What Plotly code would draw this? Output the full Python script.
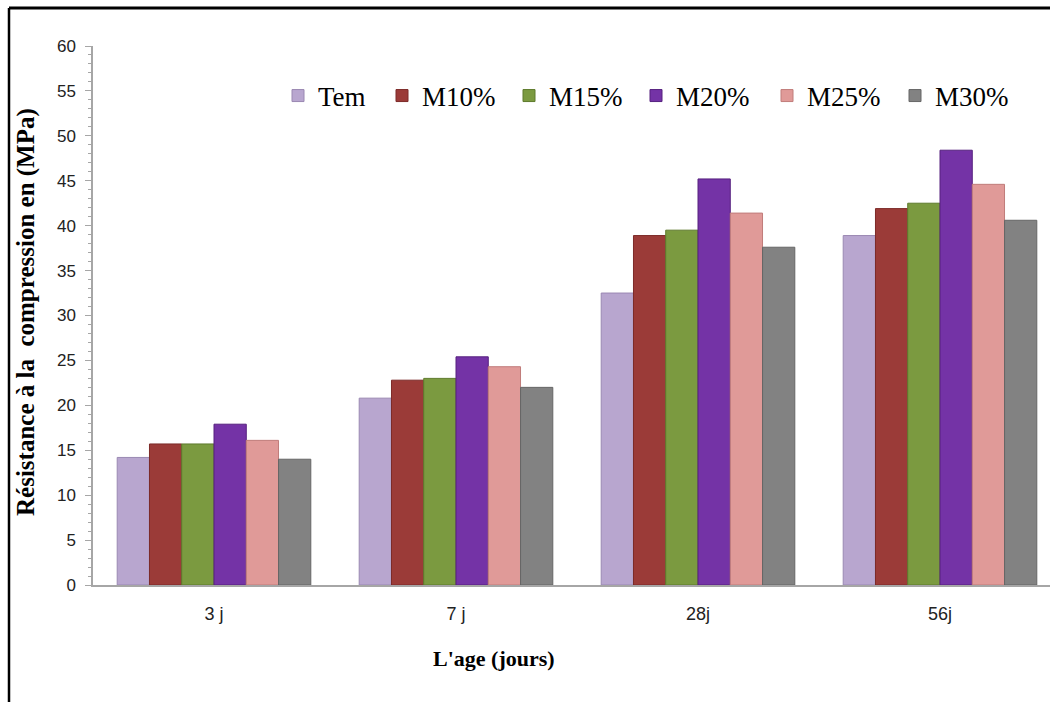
import plotly.graph_objects as go

# Compressive strength (MPa) by curing age for each mix
ages = ["3 j", "7 j", "28j", "56j"]
series_names = ["Tem", "M10%", "M15%", "M20%", "M25%", "M30%"]
tem = [14.2, 20.8, 32.5, 38.9]
m10 = [15.7, 22.8, 38.9, 41.9]
m15 = [15.7, 23.0, 39.5, 42.5]
m20 = [17.9, 25.4, 45.2, 48.4]
m25 = [16.1, 24.3, 41.4, 44.6]
m30 = [14.0, 22.0, 37.6, 40.6]

series_values = [tem, m10, m15, m20, m25, m30]
colors = ["#b8a6cf", "#9b3b38", "#7b9a40", "#7433a6", "#e09a98", "#828282"]
edges = ["#9a88b2", "#7c2a28", "#5e7a2c", "#56217f", "#c07c7a", "#666666"]
# left pixel of each legend entry's text
legend_text_x = [314, 418, 545, 672, 803, 931]

W, H = 1050, 702
left, right, top, bottom = 93, 0, 46, 117
plot_w = W - left - right
plot_h = H - top - bottom


def px_x(px):
    return (px - left) / plot_w


def px_y(py):
    return (H - bottom - py) / plot_h


fig = go.Figure()
legend_layouts = {}
for i, (name, vals, c, e, tx) in enumerate(zip(series_names, series_values, colors, edges, legend_text_x)):
    key = "legend" if i == 0 else f"legend{i + 1}"
    fig.add_trace(go.Bar(
        x=ages, y=vals, name=name,
        marker=dict(color=c, line=dict(color=e, width=1)),
        legend=key,
    ))
    legend_layouts[key] = dict(
        orientation="h", x=px_x(tx - 36), y=px_y(96), yanchor="middle",
        xanchor="left", bgcolor="rgba(0,0,0,0)",
        font=dict(family="Liberation Serif", size=27, color="black"),
        itemwidth=30,
    )

# Frame lines around the chart (top and left edges)
fig.add_shape(type="line", xref="paper", yref="paper",
              x0=px_x(9), x1=px_x(W), y0=px_y(8), y1=px_y(8),
              line=dict(color="black", width=3))
fig.add_shape(type="line", xref="paper", yref="paper",
              x0=px_x(9), x1=px_x(9), y0=px_y(8), y1=px_y(H),
              line=dict(color="black", width=2.5))

fig.add_annotation(text="<b>L'age (jours)</b>", xref="paper", yref="paper",
                   x=px_x(494), y=px_y(658), xanchor="center", yanchor="middle",
                   showarrow=False,
                   font=dict(family="Liberation Serif", size=22, color="black"))
fig.add_annotation(text="<b>Résistance à la  compression en (MPa)</b>",
                   xref="paper", yref="paper", textangle=-90,
                   x=px_x(26), y=px_y(312), xanchor="center", yanchor="middle",
                   showarrow=False,
                   font=dict(family="Liberation Serif", size=25, color="black"))

fig.update_layout(
    width=W, height=H,
    margin=dict(l=left, r=right, t=top, b=bottom, pad=0),
    paper_bgcolor="white", plot_bgcolor="white",
    barmode="group", bargap=0.2, bargroupgap=0,
    showlegend=True,
    xaxis=dict(
        range=[-0.5, -0.5 + plot_w / 242.0],
        showline=True, linecolor="#a6a6a6", linewidth=1.5,
        ticks="", showgrid=False,
        tickfont=dict(family="Liberation Sans Narrow, Liberation Sans", size=18, color="#222222"),
        ticklabelstandoff=12,
    ),
    yaxis=dict(
        range=[0, 60], dtick=5, tick0=0,
        showline=True, linecolor="#a6a6a6", linewidth=1.5,
        ticks="outside", ticklen=6, tickcolor="#a6a6a6",
        showgrid=False, zeroline=False,
        minor=dict(dtick=1, ticks="outside", ticklen=3, tickcolor="#a6a6a6"),
        tickfont=dict(family="Liberation Sans", size=17, color="#222222"),
        ticklabelstandoff=6,
    ),
    **legend_layouts,
)

fig.write_html("out.html")
